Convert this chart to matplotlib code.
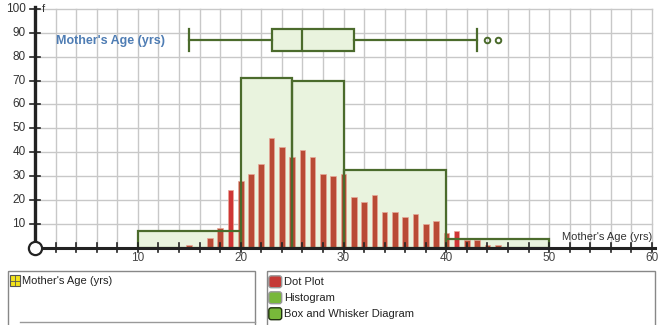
import matplotlib.pyplot as plt
from matplotlib.patches import Rectangle, FancyBboxPatch

plt.rcParams['font.family'] = ['Liberation Sans', 'DejaVu Sans']

# dot plot: frequency at each age
ages = [15, 16, 17, 18, 19, 20, 21, 22, 23, 24, 25, 26, 27, 28, 29, 30,
        31, 32, 33, 34, 35, 36, 37, 38, 39, 40, 41, 42, 43, 44, 45]
counts = [1, 0, 4, 8, 24, 28, 31, 35, 46, 42, 38, 41, 38, 31, 30, 31,
          21, 19, 22, 15, 15, 13, 14, 10, 11, 6, 7, 3, 3, 1, 1]
highlight = [19, 41]

# histogram bins
bin_edges = [10, 20, 25, 30, 40, 50]
bin_heights = [7, 71, 70, 32.5, 3.5]

# box and whisker
box_stats = dict(whislo=15, q1=23, med=26, q3=31, whishi=43, fliers=[44, 45])
box_label = "Mother's Age (yrs)"

x_ticks = [10, 20, 30, 40, 50, 60]
y_ticks = [10, 20, 30, 40, 50, 60, 70, 80, 90, 100]

green = '#4b6b2c'
green_fill = '#e9f3de'
red = '#b94a35'
red_hi = '#cf3535'
grid_col = '#c8c8c8'

fig = plt.figure(figsize=(6.69, 3.25), dpi=100)
ax = fig.add_axes([0, 55 / 325, 1, 270 / 325])
ax.set_xlim(-3.404, 61.65)
ax.set_ylim(-9.43, 103.77)
ax.axis('off')

# grid
for gx in range(2, 61, 2):
    ax.plot([gx, gx], [0, 100], color=grid_col, lw=1, zorder=0)
for gy in y_ticks:
    ax.plot([0, 60], [gy, gy], color=grid_col, lw=1, zorder=0)

# histogram (fill below, edges above the dots)
widths = [b - a for a, b in zip(bin_edges[:-1], bin_edges[1:])]
ax.bar(bin_edges[:-1], bin_heights, width=widths, align='edge',
       color=green_fill, edgecolor='none', zorder=1)
ax.bar(bin_edges[:-1], bin_heights, width=widths, align='edge',
       fill=False, edgecolor=green, lw=1.6, zorder=3)

# dot plot bars
cols = [red_hi if a in highlight else red for a in ages]
ax.bar(ages, counts, width=0.55, color=cols, edgecolor='#e8a898', lw=0.5, zorder=2)

# box plot
ax.bxp([box_stats], positions=[87], widths=9.2, orientation='horizontal',
       showfliers=True, patch_artist=True, manage_ticks=False,
       boxprops=dict(facecolor=green_fill, edgecolor=green, lw=1.6),
       medianprops=dict(color=green, lw=1.6),
       whiskerprops=dict(color=green, lw=1.6),
       capprops=dict(color=green, lw=1.6),
       flierprops=dict(marker='o', markersize=4, markerfacecolor='none',
                       markeredgecolor=green, markeredgewidth=1.4),
       capwidths=9.6)
for art in ax.lines[-6:]:
    art.set_zorder(4)
ax.text(2, 86.5, box_label, color='#4f7db4', fontsize=9, fontweight='bold',
        va='center', ha='left', zorder=5)

# axes
ax.plot([0, 0], [0, 101], color='#222222', lw=2.4, zorder=6)
ax.plot([0, 60.3], [0, 0], color='#222222', lw=2.2, zorder=6)
for tx in range(2, 61, 2):
    ax.plot([tx, tx], [-2, 2], color='#222222', lw=1.2, zorder=6)
for ty in y_ticks:
    ax.plot([-0.5, 0.5], [ty, ty], color='#222222', lw=1.2, zorder=6)
    ax.text(-0.9, ty, str(ty), ha='right', va='center', fontsize=8.5, color='#333333')
for tx in x_ticks:
    ax.text(tx, -4.6, str(tx), ha='center', va='center', fontsize=8.5, color='#444444')
ax.plot([0], [0], marker='o', markersize=9.5, markerfacecolor='white',
        markeredgecolor='#222222', markeredgewidth=1.6, zorder=7, clip_on=False)
ax.text(0.7, 100, 'f', ha='left', va='center', fontsize=8, color='#333333')
ax.text(60, 4.3, "Mother's Age (yrs)", ha='right', va='center', fontsize=8, color='#333333')

# legend panels (pixel coordinates)
lg = fig.add_axes([0, 0, 1, 1], zorder=-1)
lg.set_xlim(0, 669)
lg.set_ylim(325, 0)
lg.axis('off')
lg.add_patch(Rectangle((8, 271), 247, 60, fill=False, edgecolor='#888888', lw=1))
lg.add_patch(Rectangle((267, 271), 388, 60, fill=False, edgecolor='#888888', lw=1))
lg.plot([20, 255], [321.5, 321.5], color='#999999', lw=1)

# yellow series icon
lg.add_patch(Rectangle((10, 275), 10, 11, facecolor='#f2e21a', edgecolor='#555555', lw=0.8))
lg.plot([15, 15], [275, 286], color='#555555', lw=0.6)
lg.plot([10, 20], [280.5, 280.5], color='#555555', lw=0.6)
lg.text(22, 281, "Mother's Age (yrs)", fontsize=8, va='center', ha='left', color='#222222')

legend_items = [('Dot Plot', '#c53a36', '#999999'),
                ('Histogram', '#78b83a', '#999999'),
                ('Box and Whisker Diagram', '#78b83a', '#223311')]
for i, (name, fc, ec) in enumerate(legend_items):
    yy = 277 + i * 16
    lg.add_patch(FancyBboxPatch((270, yy), 10.5, 9.5, boxstyle='round,pad=1.2,rounding_size=2.5',
                                facecolor=fc, edgecolor=ec, lw=1))
    lg.text(284, yy + 5, name, fontsize=8, va='center', ha='left', color='#222222')

fig.savefig('out.png', dpi=100)
